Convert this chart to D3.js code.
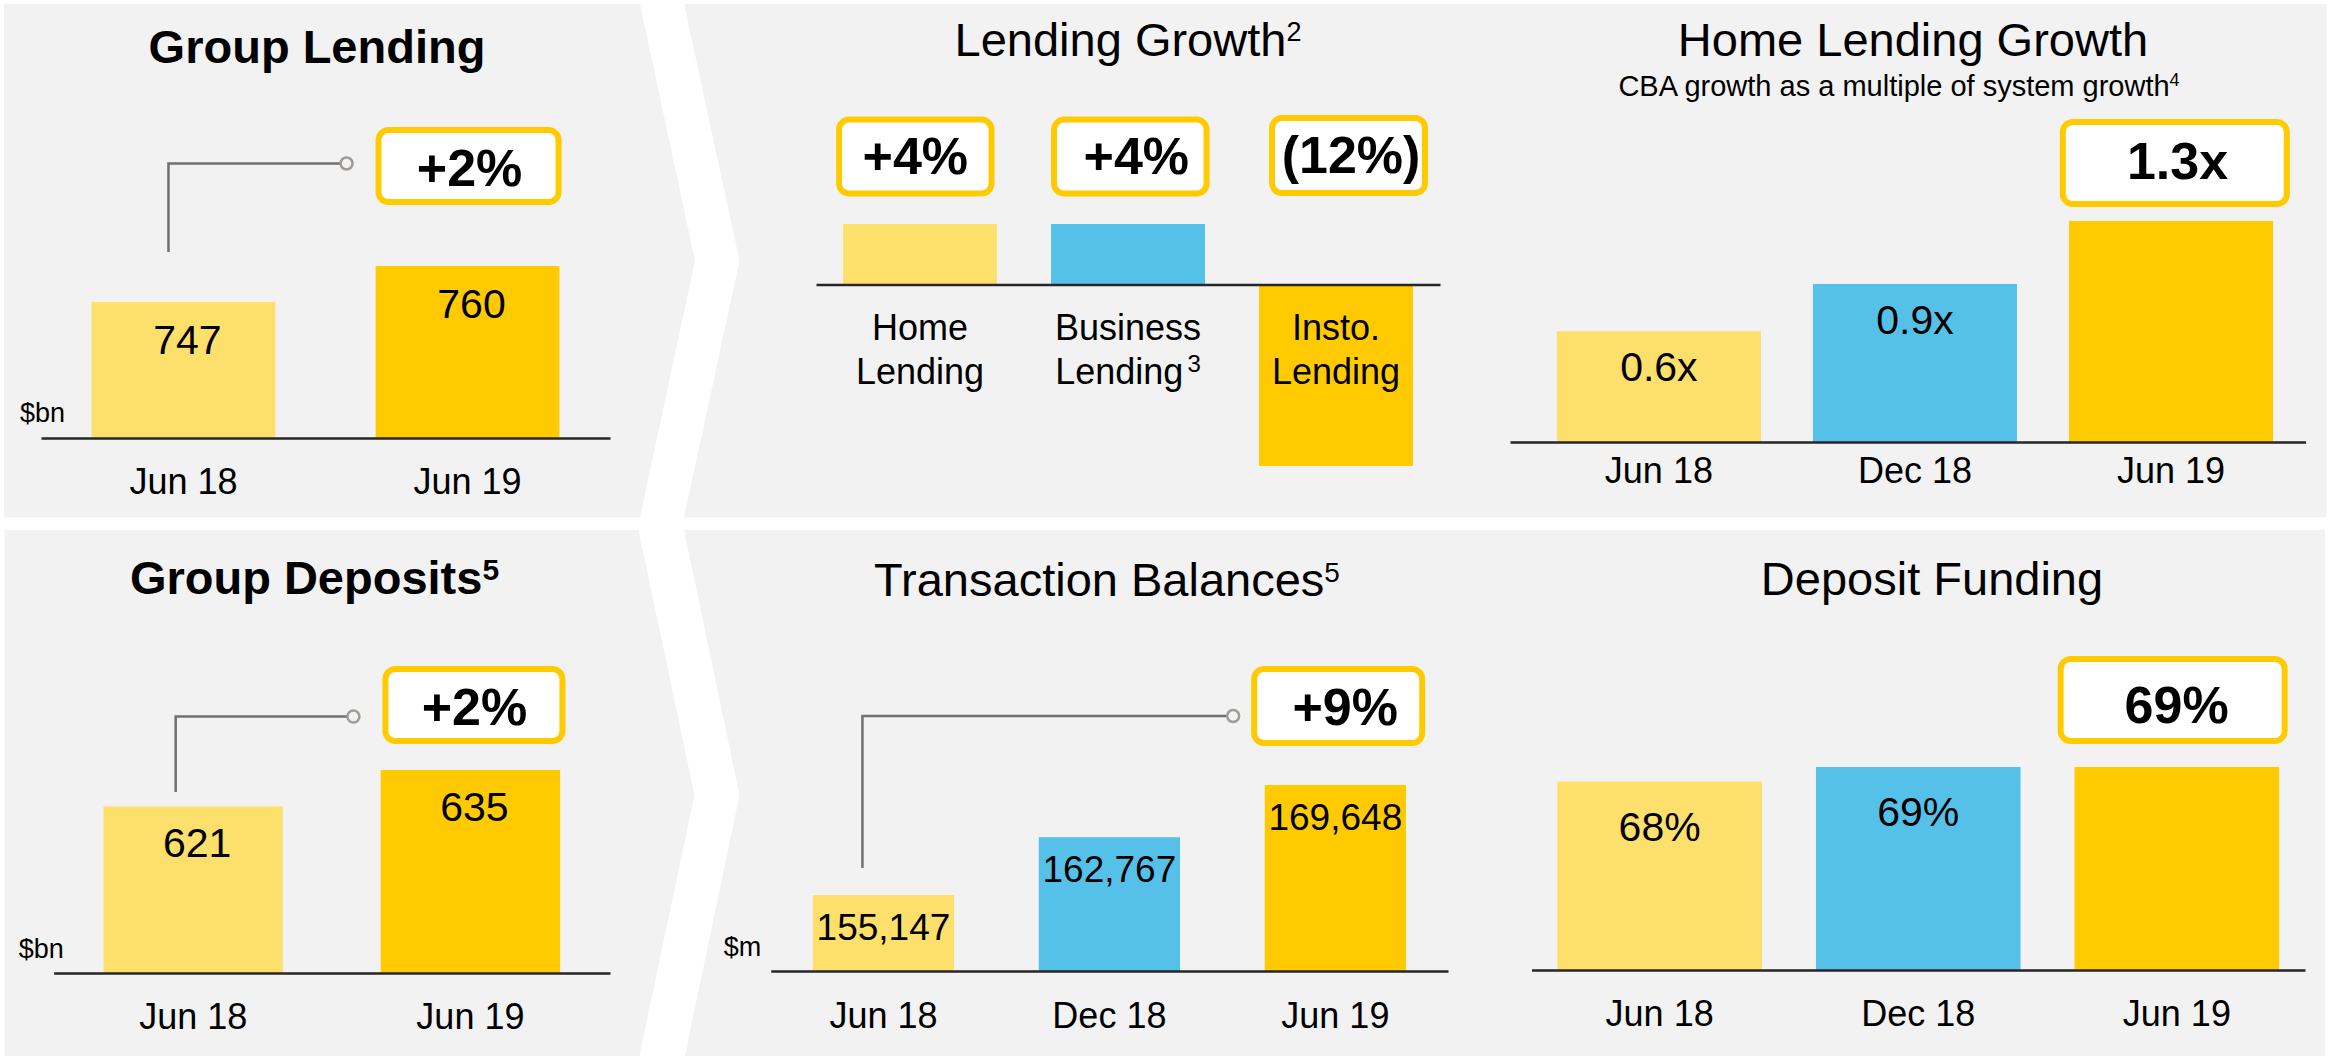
<!DOCTYPE html>
<html>
<head>
<meta charset="utf-8">
<script src="https://cdn.jsdelivr.net/npm/d3@7"></script>
<style>
  body { margin: 0; background: #fff; }
  svg { display: block; font-family: 'Liberation Sans', Arial, sans-serif; }
</style>
</head>
<body>
<svg id="chart" width="2331" height="1056"></svg>
<script>
// categories
var twoDates = ['Jun 18', 'Jun 19'];
var threeDates = ['Jun 18', 'Dec 18', 'Jun 19'];
var growthTypes = ['Home Lending', 'Business Lending', 'Insto. Lending'];
var growthFootnotes = ['', '3', ''];

// series values
var groupLending = [747, 760];          // $bn
var groupDeposits = [621, 635];         // $bn
var lendingGrowth = [4, 4, -12];        // %
var homeLendingMultiple = [0.6, 0.9, 1.3];
var transactionBalances = [155147, 162767, 169648]; // $m
var depositFunding = [68, 69, 69];      // %

// callout texts
var groupLendingCallout = ['+2%'];
var groupDepositsCallout = ['+2%'];
var lendingGrowthCallouts = ['+4%', '+4%', '(12%)'];
var homeLendingCallout = ['1.3x'];
var transactionCallout = ['+9%'];
var depositFundingCallout = ['69%'];

var lightGold = '#FDDF6B', blue = '#55C1E8', gold = '#FFCB00', panelGrey = '#F2F2F2';

var svg = d3.select('#chart');

// chevron panels
var panelShapes = [
  [[4, 4], [640, 4], [695, 260.75], [640, 517.5], [4, 517.5]],
  [[684, 4], [2326.5, 4], [2326.5, 517.5], [684, 517.5], [739.5, 260.75]],
  [[4.5, 530], [638.5, 530], [694.5, 795], [638.5, 1060], [4.5, 1060]],
  [[684, 530], [2325, 530], [2325, 1060], [684, 1060], [739.5, 795]]
];
svg.selectAll('path.panel').data(panelShapes).enter().append('path')
  .attr('class', 'panel')
  .attr('d', function(d) { return d3.line()(d) + 'Z'; })
  .attr('fill', panelGrey);

function addTitle(g, t) {
  var txt = g.append('text')
    .attr('x', t.x).attr('y', t.y)
    .attr('text-anchor', 'middle')
    .attr('font-size', t.size || 47)
    .attr('font-weight', t.bold ? 'bold' : 'normal')
    .attr('fill', '#000');
  txt.append('tspan').text(t.text);
  if (t.sup) {
    txt.append('tspan').attr('font-size', t.supSize).attr('dy', t.supDy).text(t.sup);
  }
}

function drawBarChart(cfg) {
  var g = svg.append('g');

  var x = d3.scaleBand().domain(cfg.categories).range(cfg.xRange)
    .paddingInner(cfg.padIn).paddingOuter(cfg.padOut)
    .align(cfg.align == null ? 0.5 : cfg.align);
  var y = d3.scaleLinear().domain(cfg.yDomain).range(cfg.yRange);
  var base = d3.min(cfg.values) < 0 ? 0 : cfg.yDomain[0];

  function centre(i) {
    return x(cfg.categories[i]) + x.bandwidth() / 2;
  }

  g.selectAll('rect.bar').data(cfg.values).enter().append('rect')
    .attr('class', 'bar')
    .attr('x', function(d, i) { return x(cfg.categories[i]); })
    .attr('width', x.bandwidth())
    .attr('y', function(d) { return Math.min(y(d), y(base)); })
    .attr('height', function(d) { return Math.abs(y(d) - y(base)); })
    .attr('fill', function(d, i) { return cfg.colours[i]; });

  // value labels inside bars
  if (cfg.valueFormat) {
    g.selectAll('text.value').data(cfg.values.slice(0, cfg.labelCount || cfg.values.length))
      .enter().append('text')
      .attr('class', 'value')
      .attr('x', function(d, i) { return centre(i) + (cfg.labelDx || 0); })
      .attr('y', function(d) { return y(d) + cfg.labelOffset; })
      .attr('text-anchor', 'middle')
      .attr('font-size', cfg.labelSize)
      .attr('fill', '#000')
      .text(cfg.valueFormat);
  }

  // baseline + category labels
  var axis = d3.axisBottom(x).tickSize(0).tickSizeOuter(0).tickPadding(cfg.tickPad);
  var ax = g.append('g')
    .attr('transform', 'translate(0,' + y(base) + ')')
    .call(axis)
    .attr('font-family', null)
    .attr('font-size', 36);
  ax.select('.domain').attr('stroke', '#262626').attr('stroke-width', 2.5);
  ax.selectAll('.tick text').attr('fill', '#000');

  if (cfg.multiline) {
    ax.selectAll('.tick text').each(function(d, i) {
      var el = d3.select(this);
      var words = d.split(' ');
      el.text(null);
      el.append('tspan').attr('x', 0).text(words[0]);
      el.append('tspan').attr('x', 0).attr('dy', 44).text(words.slice(1).join(' '));
      if (cfg.footnotes && cfg.footnotes[i]) {
        el.append('tspan').attr('font-size', 24).attr('dx', 4).attr('dy', -12).text(cfg.footnotes[i]);
      }
    });
  }

  if (cfg.unit) {
    g.append('text')
      .attr('x', cfg.unit.x).attr('y', y(base) + cfg.unit.dy)
      .attr('font-size', 27).attr('fill', '#000')
      .text(cfg.unit.text);
  }

  addTitle(g, cfg.title);
  if (cfg.subtitle) addTitle(g, cfg.subtitle);

  // callout boxes
  var boxes = cfg.callouts.map(function(c) {
    var cx = centre(c.index) + c.dx;
    return { c: c, left: cx - c.w / 2, cx: cx };
  });

  if (cfg.connector) {
    var k = cfg.connector;
    var x0 = centre(0) + k.dx;
    var cxCircle = boxes[0].left - k.boxGap;
    var r = 6;
    g.append('path')
      .attr('d', d3.line()([[x0, y(cfg.values[0]) - k.gap], [x0, k.y], [cxCircle - r, k.y]]))
      .attr('fill', 'none')
      .attr('stroke', '#707070')
      .attr('stroke-width', 2.5);
    g.append('circle')
      .attr('cx', cxCircle).attr('cy', k.y).attr('r', r)
      .attr('fill', panelGrey)
      .attr('stroke', '#A19B96')
      .attr('stroke-width', 2.5);
  }

  boxes.forEach(function(b) {
    var c = b.c;
    g.append('rect')
      .attr('x', b.left + 3).attr('y', c.top + 3)
      .attr('width', c.w - 6).attr('height', c.h - 6)
      .attr('rx', 10).attr('ry', 10)
      .attr('fill', '#fff')
      .attr('stroke', gold)
      .attr('stroke-width', 6);
    g.append('text')
      .attr('x', b.cx + (c.tdx || 0))
      .attr('y', c.top + (c.baseOff || 59))
      .attr('text-anchor', 'middle')
      .attr('font-size', 52)
      .attr('font-weight', 'bold')
      .attr('fill', '#000')
      .text(c.text);
  });
}

// Group Lending
drawBarChart({
  categories: twoDates, values: groupLending, colours: [lightGold, gold],
  xRange: [41, 610], padIn: 0.353, padOut: 0.178,
  yDomain: [698, 760], yRange: [438, 266], tickPad: 30.5,
  valueFormat: d3.format('d'), labelSize: 41, labelOffset: 52, labelDx: 4,
  title: { text: 'Group Lending', x: 317, y: 62.5, bold: true },
  unit: { text: '$bn', x: 20, dy: -16 },
  callouts: [{ index: 1, text: groupLendingCallout[0], w: 186, h: 78, top: 127, dx: 1, tdx: 1 }],
  connector: { dx: -15, gap: 50, y: 163.5, boxGap: 29 }
});

// Lending Growth
drawBarChart({
  categories: growthTypes, values: lendingGrowth, colours: [lightGold, blue, gold],
  xRange: [816, 1440], padIn: 0.26, padOut: 0.13,
  yDomain: [-12, 4], yRange: [466, 224], tickPad: 30,
  multiline: true, footnotes: growthFootnotes,
  title: { text: 'Lending Growth', sup: '2', supSize: 27, supDy: -15, x: 1128, y: 55.8 },
  callouts: [
    { index: 0, text: lendingGrowthCallouts[0], w: 158.5, h: 80, top: 116.6, dx: -4.7, tdx: 0, baseOff: 57 },
    { index: 1, text: lendingGrowthCallouts[1], w: 158.5, h: 80, top: 116.6, dx: 2.3, tdx: 6, baseOff: 57 },
    { index: 2, text: lendingGrowthCallouts[2], w: 159, h: 81, top: 115, dx: 12.5, tdx: 2.5, baseOff: 58 }
  ]
});

// Home Lending Growth
drawBarChart({
  categories: threeDates, values: homeLendingMultiple, colours: [lightGold, blue, gold],
  xRange: [1510, 2305.6], padIn: 0.203, padOut: 0.155, align: 0.59,
  yDomain: [-0.104, 1.3], yRange: [442, 221], tickPad: 15.8,
  valueFormat: function(d) { return d3.format('.1f')(d) + 'x'; },
  labelCount: 2, labelSize: 41, labelOffset: 50,
  title: { text: 'Home Lending Growth', x: 1913, y: 55.8 },
  subtitle: { text: 'CBA growth as a multiple of system growth', sup: '4', supSize: 18, supDy: -10, size: 29, x: 1899, y: 95.7 },
  callouts: [{ index: 2, text: homeLendingCallout[0], w: 230, h: 88, top: 119, dx: 3.8, tdx: 2.7, baseOff: 59.5 }]
});

// Group Deposits
drawBarChart({
  categories: twoDates, values: groupDeposits, colours: [lightGold, gold],
  xRange: [53.6, 610], padIn: 0.353, padOut: 0.18,
  yDomain: [557, 635], yRange: [973, 770], tickPad: 30.8,
  valueFormat: d3.format('d'), labelSize: 41, labelOffset: 50.5, labelDx: 4,
  title: { text: 'Group Deposits', sup: '5', supSize: 30, supDy: -14, x: 314.5, y: 593.5, bold: true },
  unit: { text: '$bn', x: 18.75, dy: -15.4 },
  callouts: [{ index: 1, text: groupDepositsCallout[0], w: 183, h: 78, top: 666, dx: 3.5, tdx: 0.5 }],
  connector: { dx: -17.5, gap: 14.5, y: 716.6, boxGap: 29 }
});

// Transaction Balances
drawBarChart({
  categories: threeDates, values: transactionBalances, colours: [lightGold, blue, gold],
  xRange: [770.8, 1448], padIn: 0.375, padOut: 0.186,
  yDomain: [145134, 169648], yRange: [971, 785], tickPad: 31.4,
  valueFormat: d3.format(','), labelSize: 37, labelOffset: 45,
  title: { text: 'Transaction Balances', sup: '5', supSize: 28, supDy: -14, x: 1107, y: 596 },
  unit: { text: '$m', x: 723.7, dy: -15 },
  callouts: [{ index: 2, text: transactionCallout[0], w: 174, h: 80, top: 666, dx: 2.8, tdx: 7 }],
  connector: { dx: -21, gap: 27, y: 716, boxGap: 18 }
});

// Deposit Funding
drawBarChart({
  categories: threeDates, values: depositFunding, colours: [lightGold, blue, gold],
  xRange: [1531.5, 2305], padIn: 0.209, padOut: 0.1,
  yDomain: [55.1, 69], yRange: [970, 767], tickPad: 30.4,
  valueFormat: function(d) { return d + '%'; },
  labelCount: 2, labelSize: 41, labelOffset: 59,
  title: { text: 'Deposit Funding', x: 1932, y: 594.5 },
  callouts: [{ index: 2, text: depositFundingCallout[0], w: 230, h: 88, top: 656, dx: -4.2, tdx: 4, baseOff: 66.5 }]
});
</script>
</body>
</html>
